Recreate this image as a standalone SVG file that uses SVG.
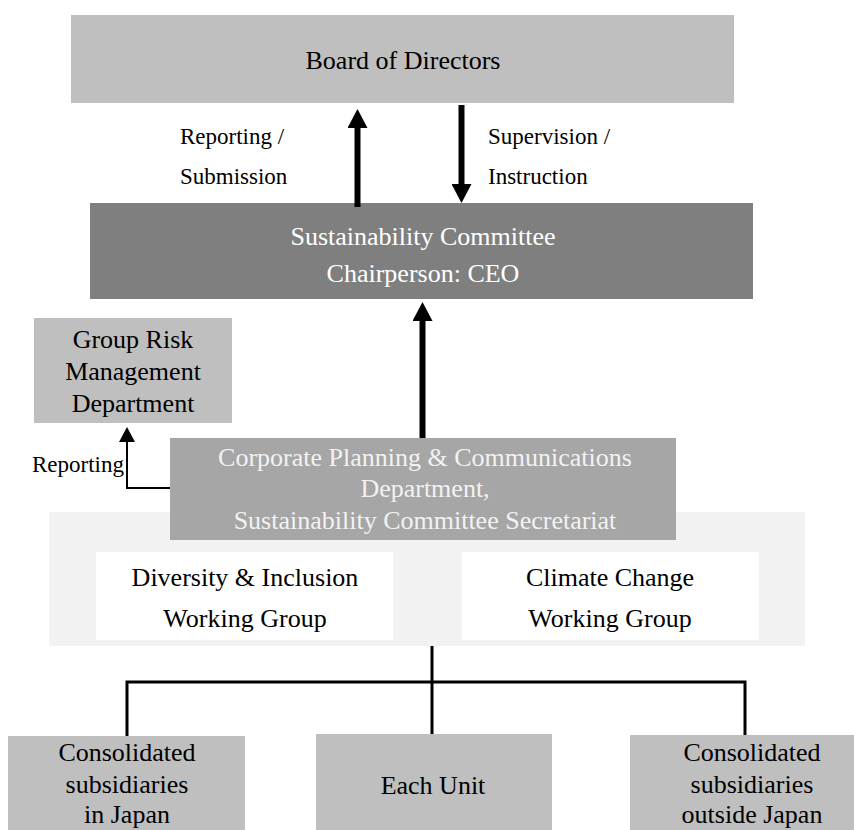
<svg xmlns="http://www.w3.org/2000/svg" width="854" height="830" viewBox="0 0 854 830">
<style>
  text { font-family: "Liberation Serif", "Times New Roman", serif; font-size: 26px; fill: #000; }
  .c { text-anchor: middle; }
  .lbl { font-size: 23px; }
  .w1 { fill: #ffffff; }
  .w2 { fill: #f2f2f2; }
  .lt { fill: #bfbfbf; }
  .thick { stroke: #000; stroke-width: 6; fill: none; }
  .thin { stroke: #000; stroke-width: 2; fill: none; }
  .tree { stroke: #000; stroke-width: 3; fill: none; }
</style>
<defs>
  <marker id="head" markerUnits="userSpaceOnUse" markerWidth="19" markerHeight="20" viewBox="0 0 19 20" refX="0" refY="10" orient="auto">
    <path d="M0,0 L19,10 L0,20 Z" fill="#000"/>
  </marker>
  <marker id="headS" markerUnits="userSpaceOnUse" markerWidth="15" markerHeight="16" viewBox="0 0 15 16" refX="0" refY="8" orient="auto">
    <path d="M0,0 L15,8 L0,16 Z" fill="#000"/>
  </marker>
</defs>
<rect width="854" height="830" fill="#ffffff"/>

<g id="panel">
  <rect x="49" y="512" width="756" height="134" fill="#f2f2f2"/>
</g>

<g id="board">
  <rect x="71" y="15" width="663" height="88" class="lt"/>
  <text x="403" y="69" class="c">Board of Directors</text>
</g>

<g id="committee">
  <rect x="90" y="203" width="663" height="96" fill="#7f7f7f"/>
  <text x="423" y="245" class="c w1">Sustainability Committee</text>
  <text x="423" y="282" class="c w1">Chairperson: CEO</text>
</g>

<g id="grouprisk">
  <rect x="34" y="318" width="198" height="105" class="lt"/>
  <text x="133" y="348" class="c">Group Risk</text>
  <text x="133" y="380" class="c">Management</text>
  <text x="133" y="412" class="c">Department</text>
</g>

<g id="corporate">
  <rect x="170" y="438" width="506" height="102" fill="#a6a6a6"/>
  <text x="425" y="466" class="c w2">Corporate Planning &amp; Communications</text>
  <text x="425" y="497" class="c w2">Department,</text>
  <text x="425" y="529" class="c w2">Sustainability Committee Secretariat</text>
</g>

<g id="diversity">
  <rect x="96" y="552" width="297" height="88" fill="#ffffff"/>
  <text x="245" y="586" class="c">Diversity &amp; Inclusion</text>
  <text x="245" y="627" class="c">Working Group</text>
</g>

<g id="climate">
  <rect x="462" y="552" width="297" height="88" fill="#ffffff"/>
  <text x="610" y="586" class="c">Climate Change</text>
  <text x="610" y="627" class="c">Working Group</text>
</g>

<g id="sub-japan">
  <rect x="8" y="736" width="237" height="94" class="lt"/>
  <text x="127" y="761" class="c">Consolidated</text>
  <text x="127" y="793" class="c">subsidiaries</text>
  <text x="127" y="823" class="c">in Japan</text>
</g>

<g id="each-unit">
  <rect x="316" y="734" width="236" height="96" class="lt"/>
  <text x="433" y="794" class="c">Each Unit</text>
</g>

<g id="sub-outside">
  <rect x="630" y="735" width="224" height="95" class="lt"/>
  <text x="752" y="761" class="c">Consolidated</text>
  <text x="752" y="793" class="c">subsidiaries</text>
  <text x="752" y="823" class="c">outside Japan</text>
</g>

<g id="connectors">
  <line x1="357.5" y1="207" x2="357.5" y2="128" class="thick" marker-end="url(#head)"/>
  <line x1="461.5" y1="105" x2="461.5" y2="184" class="thick" marker-end="url(#head)"/>
  <line x1="422.5" y1="438" x2="422.5" y2="321" class="thick" marker-end="url(#head)"/>
  <path d="M170,488 H127 V442" class="thin" marker-end="url(#headS)"/>
  <line x1="432" y1="646" x2="432" y2="734" class="tree"/>
  <path d="M127,736 V682 H745 V735" class="tree"/>
  <text x="180" y="144" class="lbl">Reporting /</text>
  <text x="180" y="184" class="lbl">Submission</text>
  <text x="488" y="144" class="lbl">Supervision /</text>
  <text x="488" y="184" class="lbl">Instruction</text>
  <text x="124" y="472" class="lbl" text-anchor="end">Reporting</text>
</g>
</svg>
